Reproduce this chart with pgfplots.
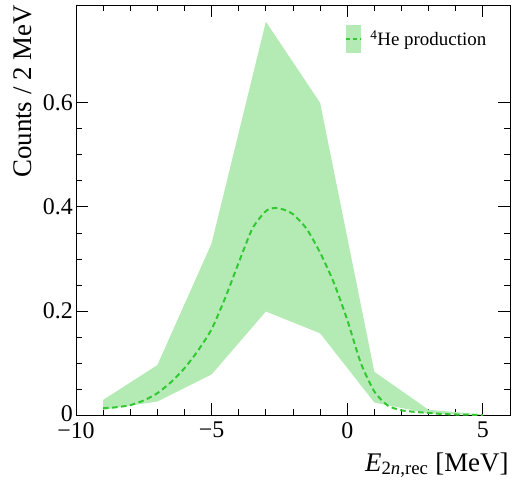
\documentclass[border=0pt]{standalone}
\usepackage{pgfplots}
\pgfplotsset{compat=1.18}
\usepackage{fontspec}
\setmainfont{Liberation Serif}
\definecolor{bandc}{RGB}{180,235,180}
\definecolor{linec}{RGB}{51,200,51}
\begin{document}
\begin{tikzpicture}
\begin{axis}[
  scale only axis,
  width=434bp, height=410bp,
  xmin=-10, xmax=6, ymin=0, ymax=0.788,
  xtick={-10,-5,0,5},
  xticklabels={−10,−5,0,5},
  ytick={0,0.2,0.4,0.6},
  yticklabels={\raisebox{3bp}{0},0.2,0.4,0.6},
  minor x tick num=4,
  minor y tick num=3,
  tick align=inside,
  major tick length=12bp,
  minor tick length=6bp,
  axis line style={line width=0.8bp},
  every tick/.style={line width=0.8bp, black},
  tick label style={font=\fontsize{24}{28}\selectfont},
  xticklabel style={anchor=north, inner sep=0pt, yshift=-7bp},
  yticklabel style={anchor=east, inner sep=0pt, xshift=-3bp},
  every axis x label/.style={at={(axis description cs:0.997,-0.1366)}, anchor=base east, inner sep=0pt, font=\fontsize{27}{32}\selectfont},
  every axis y label/.style={at={(axis description cs:-0.1014,1)}, rotate=90, anchor=base east, inner sep=0pt, font=\fontsize{27}{32}\selectfont},
  xlabel={\textit{E}\textsubscript{2\textit{n},rec} [MeV]},
  ylabel={Counts / 2 MeV},
  legend style={at={(axis description cs:0.62,0.917)}, anchor=west, draw=none, fill=none, inner sep=0pt, font=\fontsize{19}{22}\selectfont, nodes={inner sep=0pt}, column sep=8bp},
  legend cell align=left,
]
\addplot[fill=bandc, draw=none, forget plot] coordinates {
  (-9,0.029) (-7,0.096) (-5,0.33) (-3,0.756) (-1,0.600) (1,0.083) (3,0.010) (5,0.001)
  (5,0.000) (3,0.003) (1,0.024) (-1,0.157) (-3,0.199) (-5,0.078) (-7,0.026) (-9,0.010)
} -- cycle;
\addplot[linec, line width=2bp, dash pattern=on 5.5bp off 3.5bp, smooth, tension=0.4,
  legend image code/.code={
    \fill[bandc, draw=none, solid] (0bp,-14bp) rectangle (15bp,14bp);
    \draw[linec, line width=2bp, dash pattern=on 4bp off 3bp] (0bp,0bp) -- (15bp,0bp);
  }] coordinates {
  (-9,0.013) (-8.5,0.015) (-8,0.019) (-7.5,0.028) (-7,0.042) (-6.5,0.063) (-6,0.090)
  (-5.5,0.124) (-5,0.165) (-4.5,0.225) (-4,0.293) (-3.5,0.358) (-3,0.392) (-2.65,0.398)
  (-2.3,0.394) (-2,0.386) (-1.5,0.358) (-1,0.312) (-0.5,0.255) (0,0.183) (0.5,0.100)
  (1,0.045) (1.5,0.018) (2,0.009) (2.5,0.006) (3,0.004) (3.5,0.002) (4,0.001) (5,0.000)
};
\addlegendentry{\textsuperscript{4}He production}
\end{axis}
\path ([shift={(-76bp,-68bp)}]current axis.south west) rectangle ([shift={(3bp,5bp)}]current axis.north east);
\end{tikzpicture}
\end{document}
